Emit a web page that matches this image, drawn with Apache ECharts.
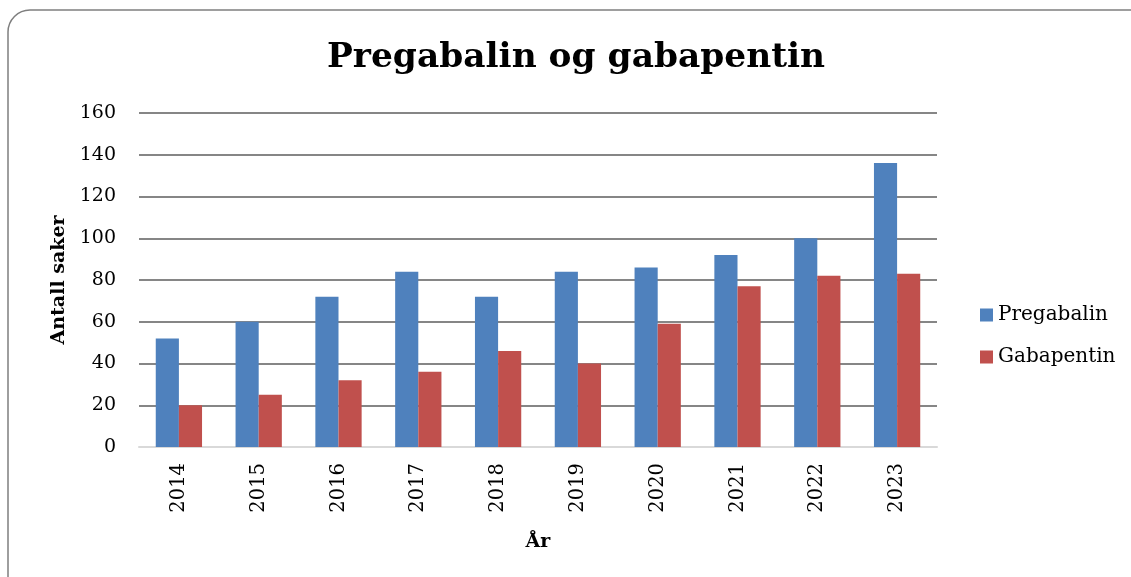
<!DOCTYPE html>
<html>
<head>
<meta charset="utf-8">
<script src="https://cdn.jsdelivr.net/npm/echarts@6/dist/echarts.min.js"></script>
<style>
  html, body { margin: 0; padding: 0; background: #fff; }
  #chart { width: 1131px; height: 577px; }
</style>
</head>
<body>
<div id="chart"></div>
<script>
const years = ['2014', '2015', '2016', '2017', '2018', '2019', '2020', '2021', '2022', '2023'];
const pregabalin = [52, 60, 72, 84, 72, 84, 86, 92, 100, 136];
const gabapentin = [20, 25, 32, 36, 46, 40, 59, 77, 82, 83];
const yTicks = [0, 20, 40, 60, 80, 100, 120, 140, 160];

const font = 'DejaVu Serif';
const chart = echarts.init(document.getElementById('chart'));

chart.setOption({
  backgroundColor: '#fff',
  animation: false,
  graphic: [{
    type: 'rect',
    shape: { x: 8, y: 10, width: 1150, height: 600, r: 22 },
    style: { fill: 'none', stroke: '#7f7f7f', lineWidth: 1.5 },
    z: 100
  }],
  title: {
    text: 'Pregabalin og gabapentin',
    left: 322,
    top: 36,
    textStyle: { fontFamily: font, fontSize: 34.4, fontWeight: 'bold', color: '#000' }
  },
  legend: {
    orient: 'vertical',
    left: 975,
    top: 300,
    itemWidth: 13,
    itemHeight: 13,
    itemGap: 22,
    icon: 'rect',
    textStyle: { fontFamily: font, fontSize: 20, color: '#000' },
    data: ['Pregabalin', 'Gabapentin']
  },
  grid: { left: 139, right: 194, top: 113, bottom: 130 },
  xAxis: {
    type: 'category',
    data: years,
    name: 'År',
    nameLocation: 'middle',
    nameGap: 86,
    nameTextStyle: { fontFamily: font, fontSize: 19, fontWeight: 'bold', color: '#000' },
    axisLine: { lineStyle: { color: '#d9d9d9', width: 2 } },
    axisTick: { show: false },
    axisLabel: { rotate: 90, fontFamily: font, fontSize: 19.5, color: '#000', margin: 16 }
  },
  yAxis: {
    type: 'value',
    min: yTicks[0],
    max: yTicks[yTicks.length - 1],
    interval: 20,
    name: 'Antall saker',
    nameLocation: 'middle',
    nameGap: 70,
    nameTextStyle: { fontFamily: font, fontSize: 19, fontWeight: 'bold', color: '#000' },
    axisLine: { show: false },
    axisTick: { show: false },
    axisLabel: { fontFamily: font, fontSize: 19, color: '#000', margin: 23 },
    splitLine: { lineStyle: { color: '#868686', width: 2 } }
  },
  series: [
    {
      name: 'Pregabalin',
      type: 'bar',
      data: pregabalin,
      barGap: '0%',
      barCategoryGap: '42%',
      itemStyle: { color: '#4f81bd' }
    },
    {
      name: 'Gabapentin',
      type: 'bar',
      data: gabapentin,
      itemStyle: { color: '#c0504d' }
    }
  ]
});
</script>
</body>
</html>
